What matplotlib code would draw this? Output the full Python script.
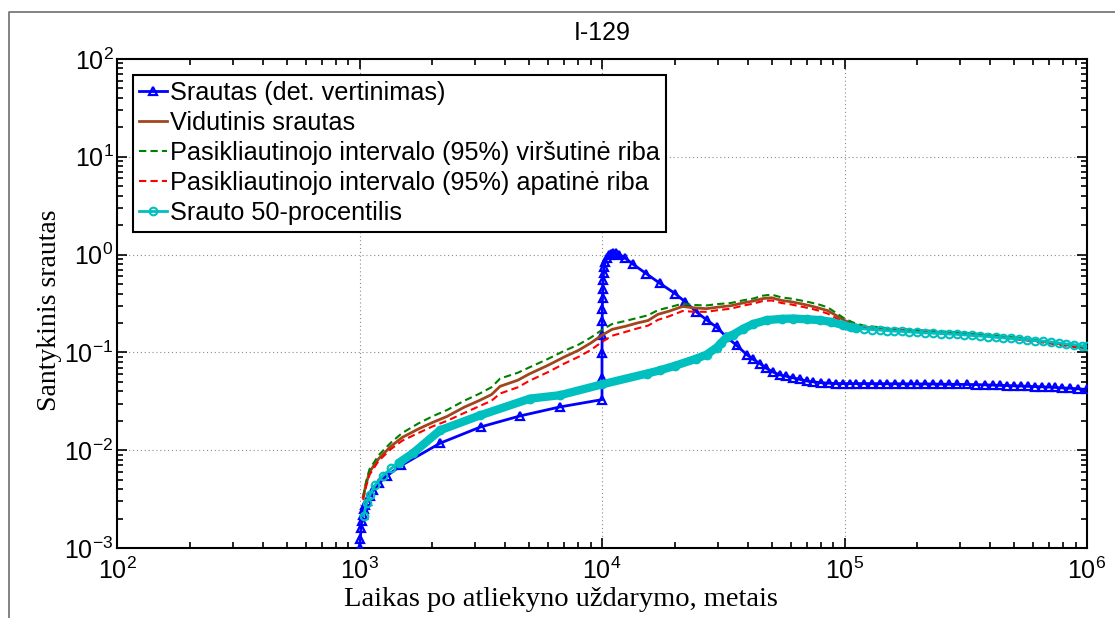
import matplotlib
matplotlib.use("Agg")
import matplotlib.pyplot as plt
from matplotlib.lines import Line2D
from matplotlib.ticker import LogLocator, NullFormatter
import numpy as np

plt.rcParams["font.family"] = ["Liberation Sans", "DejaVu Sans"]
plt.rcParams["mathtext.fontset"] = "custom"
plt.rcParams["mathtext.rm"] = "Liberation Sans"
plt.rcParams["axes.unicode_minus"] = False

# deterministic release estimate
blue_x = [1000, 1008, 1015, 1022, 1030, 1040, 1055, 1075, 1100, 1140, 1200, 1300,
          1490, 2150, 3160, 4590, 6710, 10000,
          10000, 10000, 10010, 10020, 10030, 10050, 10070, 10100, 10150, 10200,
          10300, 10450, 10650, 10900, 11100, 11400, 11800, 12400, 13400, 15200,
          17300, 20000, 22000, 24500, 27000, 29700, 32500, 35900, 39500, 42000,
          44800, 47500, 50700, 54000, 57500, 61300, 65500, 70000, 74200, 80000,
          86000, 92000, 98600, 105000, 112000, 120000, 130000, 140000, 150000,
          162000, 175000, 188000, 200000, 215000, 232000, 250000, 270000, 292000,
          320000, 350000, 380000, 410000, 438000, 470000, 500000, 535000, 570000,
          610000, 650000, 695000, 740000, 790000, 850000, 920000, 1000000]
blue_y = [1.0e-3, 1.25e-3, 1.6e-3, 1.9e-3, 2.2e-3, 2.5e-3, 2.75e-3, 3.0e-3, 3.4e-3,
          3.9e-3, 4.6e-3, 5.5e-3,
          7.0e-3, 0.0118, 0.0173, 0.0224, 0.0277, 0.0329,
          0.055, 0.098, 0.15, 0.21, 0.28, 0.36, 0.45, 0.55, 0.65, 0.74,
          0.84, 0.92, 0.98, 1.02, 1.04, 1.03, 1.00, 0.93, 0.80, 0.64,
          0.51, 0.40, 0.33, 0.26, 0.215, 0.181, 0.145, 0.118, 0.095, 0.085,
          0.077, 0.069, 0.063, 0.059, 0.057, 0.055, 0.053, 0.051, 0.050, 0.049,
          0.0485, 0.048, 0.048, 0.048, 0.048, 0.048, 0.048, 0.0479, 0.0478,
          0.0478, 0.0478, 0.0477, 0.0476, 0.0476, 0.0475, 0.0474, 0.0472, 0.0471,
          0.047, 0.0468, 0.0466, 0.0463, 0.046, 0.0458, 0.0455, 0.0453, 0.045,
          0.0447, 0.0445, 0.0442, 0.0438, 0.0434, 0.043, 0.0424, 0.0418]

# mean, upper and lower 95% bounds share one time grid
band_x = [1035, 1065, 1100, 1200, 1350, 1500, 1750, 2000, 2300, 2700, 3100, 3500,
          3800, 4500, 5000, 6000, 7000, 8000, 9000, 10000, 11000, 12500, 14000,
          15500, 17000, 19000, 21500, 24000, 27000, 30000, 34000, 38000, 42000,
          46000, 50000, 55000, 60000, 66000, 72000, 78000, 85000, 92000, 100000,
          110000, 120000, 150000, 200000, 300000, 400000, 600000, 800000, 1000000]
mean_y = [3.3e-3, 4.5e-3, 6.0e-3, 8.2e-3, 0.0110, 0.0135, 0.0165, 0.0192, 0.0222,
          0.0275, 0.032, 0.037, 0.045, 0.052, 0.060, 0.074, 0.090, 0.105, 0.125,
          0.150, 0.172, 0.185, 0.200, 0.212, 0.245, 0.265, 0.295, 0.285, 0.280,
          0.290, 0.300, 0.320, 0.335, 0.355, 0.362, 0.340, 0.330, 0.315, 0.300,
          0.285, 0.268, 0.240, 0.212, 0.192, 0.182, 0.172, 0.165, 0.156, 0.148,
          0.133, 0.121, 0.110]
upper_y = [3.3e-3, 4.8e-3, 6.4e-3, 8.9e-3, 0.0120, 0.0150, 0.0188, 0.0222, 0.0258,
           0.0320, 0.0375, 0.0440, 0.0540, 0.0620, 0.0700, 0.0860, 0.1040, 0.1200,
           0.1420, 0.1700, 0.1950, 0.2100, 0.2250, 0.2400, 0.2700, 0.2900, 0.3150,
           0.3050, 0.3020, 0.3120, 0.3200, 0.3400, 0.3550, 0.3800, 0.3900, 0.3650,
           0.3550, 0.3400, 0.3250, 0.3100, 0.2900, 0.2550, 0.2220, 0.1990, 0.1880,
           0.1770, 0.1690, 0.1600, 0.1510, 0.1350, 0.1230, 0.1110]
lower_y = [3.1e-3, 4.3e-3, 5.6e-3, 7.8e-3, 0.0103, 0.0125, 0.0150, 0.0175, 0.0200,
           0.0240, 0.0280, 0.0320, 0.0380, 0.0440, 0.0510, 0.0630, 0.0770, 0.0900,
           0.1060, 0.1280, 0.1480, 0.1620, 0.1760, 0.1880, 0.2150, 0.2350, 0.2650,
           0.2600, 0.2600, 0.2700, 0.2800, 0.3000, 0.3150, 0.3350, 0.3400, 0.3200,
           0.3100, 0.2950, 0.2820, 0.2680, 0.2500, 0.2250, 0.2020, 0.1860, 0.1780,
           0.1690, 0.1620, 0.1530, 0.1450, 0.1300, 0.1180, 0.1080]

# 50th percentile
med_x = [1040, 1070, 1100, 1160, 1250, 1350, 1450, 1660, 2150, 3140, 5050, 6710,
         10000, 15300, 17300, 20000, 24500, 27000, 29700, 31000, 32700, 34700,
         38300, 42000, 47800, 55000, 61400, 70000, 79300, 88000, 98800, 106000,
         112000, 120000, 130000, 140000, 150000, 160000, 172000, 185000, 200000,
         215000, 232000, 250000, 270000, 290000, 312000, 336000, 362000, 390000,
         420000, 452000, 487000, 525000, 565000, 610000, 657000, 708000, 763000,
         822000, 886000, 955000, 1000000]
med_y = [2.14e-3, 2.9e-3, 3.45e-3, 4.4e-3, 5.5e-3, 6.5e-3, 7.4e-3, 9.3e-3, 0.016,
         0.0227, 0.0337, 0.0365, 0.0471, 0.0607, 0.0655, 0.073, 0.0863, 0.095,
         0.112, 0.125, 0.143, 0.152, 0.175, 0.195, 0.214, 0.220, 0.222, 0.218,
         0.214, 0.205, 0.190, 0.180, 0.176, 0.174, 0.171, 0.169, 0.167, 0.165,
         0.164, 0.162, 0.160, 0.158, 0.157, 0.156, 0.154, 0.153, 0.151, 0.149,
         0.147, 0.145, 0.143, 0.141, 0.139, 0.137, 0.135, 0.132, 0.130, 0.128,
         0.125, 0.122, 0.120, 0.117, 0.115]

labels = ["Srautas (det. vertinimas)",
          "Vidutinis srautas",
          "Pasikliautinojo intervalo (95%) viršutinė riba",
          "Pasikliautinojo intervalo (95%) apatinė riba",
          "Srauto 50-procentilis"]

W, H = 1115, 618
fig = plt.figure(figsize=(W / 100, H / 100), dpi=100)
ax = fig.add_axes([117 / W, 1 - 548 / H, 970 / W, 489 / H])

ax.plot(blue_x, blue_y, color="#0000ff", lw=2.0, marker="^", ms=6,
        mfc="none", mew=1.6, label=labels[0], zorder=3)
ax.plot(band_x, mean_y, color="#a0461e", lw=2.0, label=labels[1], zorder=3)
ax.plot(band_x, upper_y, color="#008000", lw=1.5, ls=(0, (3.5, 2)),
        label=labels[2], zorder=3)
ax.plot(band_x, lower_y, color="#ff0000", lw=1.5, ls=(0, (3.5, 2)),
        label=labels[3], zorder=3)

# densely sampled stretch of the percentile reads as a solid band
mx = np.array(med_x)
my = np.array(med_y)
dense = (mx >= 1450) & (mx <= 112000)
ax.plot(mx[dense], my[dense], color="#00bfbf", lw=6, solid_capstyle="round",
        zorder=4)
ax.plot(med_x, med_y, color="#00bfbf", lw=2.0, marker="o", ms=5.5,
        mfc="none", mew=1.5, label=labels[4], zorder=4)

ax.set_xscale("log")
ax.set_yscale("log")
ax.set_xlim(1e2, 1e6)
ax.set_ylim(1e-3, 1e2)
for axis in (ax.xaxis, ax.yaxis):
    axis.set_major_locator(LogLocator(base=10, numticks=20))
    axis.set_minor_locator(LogLocator(base=10, subs=np.arange(2, 10), numticks=20))
    axis.set_minor_formatter(NullFormatter())

ax.grid(True, which="major", color="#8c8c8c", lw=0.8, ls=(0, (1, 2.5)))
ax.tick_params(which="both", direction="in", top=True, right=True,
               width=1.2, labelsize=18)
ax.tick_params(which="major", length=7)
ax.tick_params(which="minor", length=4)
ax.tick_params(axis="x", pad=7)
ax.tick_params(axis="y", pad=2.5)
for sp in ax.spines.values():
    sp.set_linewidth(1.5)

ax.set_title("I-129", fontsize=18, pad=14)
ax.set_xlabel("Laikas po atliekyno uždarymo, metais",
              family="Liberation Serif", fontsize=20.5)
ax.xaxis.label.set_verticalalignment("baseline")
ax.xaxis.set_label_coords((561 - 117) / 970, (548 - 606) / 489)
ax.set_ylabel("Santykinis srautas", family="Liberation Serif", fontsize=20)
ax.yaxis.label.set_verticalalignment("center")
ax.yaxis.set_label_coords((50 - 117) / 970, (548 - 310) / 489)

leg = ax.legend(loc="upper left", fontsize=18.2, numpoints=1,
                handlelength=1.1, handletextpad=0.12, labelspacing=0.24,
                borderpad=0.25, borderaxespad=0.62, fancybox=False,
                framealpha=1, edgecolor="black")
leg.get_frame().set_linewidth(1.5)

# outer frame line of the figure panel
fig.add_artist(Line2D([9 / W, 9 / W, 1.0], [0.0, 1 - 12 / H, 1 - 12 / H],
                      transform=fig.transFigure, color="#6e6e6e", lw=1.2))

fig.savefig("out.png", dpi=100)
